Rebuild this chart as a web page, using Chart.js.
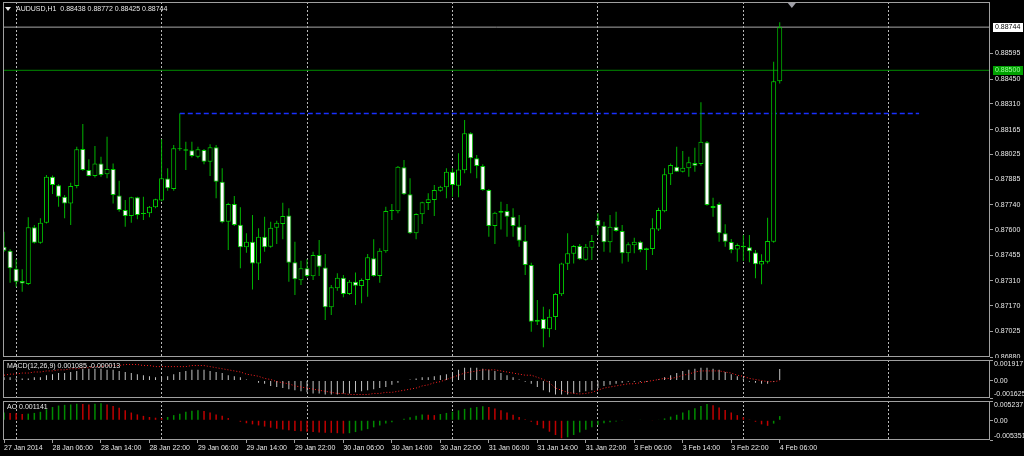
<!DOCTYPE html>
<html>
<head>
<meta charset="utf-8">
<title>AUDUSD,H1</title>
<script src="https://cdn.jsdelivr.net/npm/chart.js@4.4.0/dist/chart.umd.min.js"></script>
<style>
  html, body { margin: 0; padding: 0; background: #000; }
  #wrap { position: relative; width: 1024px; height: 456px; background: #000; overflow: hidden; }
  canvas { position: absolute; left: 0; }
  .lbl { position: absolute; color: #e8e8e8; font: 7px "Liberation Sans", Arial, sans-serif; line-height: 9px; white-space: pre; }
  .tri { position: absolute; width: 0; height: 0; border-left: 3px solid transparent; border-right: 3px solid transparent; border-top: 4px solid #e8e8e8; }
</style>
</head>
<body>
<div id="wrap">
  <canvas id="mainChart" width="1024" height="358" style="top:0"></canvas>
  <canvas id="macdChart" width="1024" height="41" style="top:358px"></canvas>
  <canvas id="aoChart" width="1024" height="57" style="top:399px"></canvas>
  <div class="tri" style="left:5px;top:7px"></div>
  <div class="lbl" id="headLabel" style="left:16px;top:4px"></div>
  <div class="lbl" id="macdLabel" style="left:7px;top:361px"></div>
  <div class="lbl" id="aoLabel" style="left:7px;top:402px"></div>
</div>
<script>
// Données AUDUSD H1
const symbol = "AUDUSD,H1";

const opens = [
  0.87503,0.87481,0.87378,0.87309,0.87292,0.87613,0.87526,0.87639,0.87899,0.87850,
  0.87786,0.87748,0.87846,0.88056,0.87937,0.87903,0.87974,0.87913,0.87943,0.87793,
  0.87711,0.87677,0.87782,0.87688,0.87692,0.87726,0.87765,0.87888,0.87830,0.88058,
  0.88054,0.88048,0.88012,0.88050,0.87984,0.88065,0.87870,0.87644,0.87744,0.87628,
  0.87500,0.87531,0.87409,0.87560,0.87503,0.87610,0.87631,0.87680,0.87415,0.87313,
  0.87381,0.87336,0.87456,0.87386,0.87161,0.87268,0.87328,0.87236,0.87305,0.87281,
  0.87315,0.87438,0.87338,0.87478,0.87705,0.87703,0.87952,0.87799,0.87579,0.87686,
  0.87750,0.87767,0.87820,0.87839,0.87927,0.87848,0.87935,0.88144,0.88003,0.87959,
  0.87824,0.87620,0.87695,0.87705,0.87673,0.87618,0.87537,0.87400,0.87079,0.87095,
  0.87037,0.87106,0.87234,0.87407,0.87464,0.87507,0.87430,0.87497,0.87654,0.87622,
  0.87528,0.87616,0.87592,0.87466,0.87511,0.87531,0.87485,0.87490,0.87600,0.87703,
  0.87912,0.87955,0.87927,0.87946,0.87976,0.87970,0.88094,0.87722,0.87745,0.87579,
  0.87530,0.87488,0.87500,0.87500,0.87470,0.87402,0.87418,0.87531,0.88438
];
const highs = [
  0.87588,0.87489,0.87432,0.87376,0.87669,0.87626,0.87664,0.87909,0.87905,0.87856,
  0.87796,0.87865,0.88068,0.88196,0.87997,0.88072,0.88012,0.88125,0.87974,0.87876,
  0.87767,0.87786,0.87786,0.87786,0.87733,0.87774,0.88110,0.87946,0.88078,0.88256,
  0.88097,0.88097,0.88068,0.88056,0.88082,0.88078,0.87946,0.87752,0.87790,0.87726,
  0.87579,0.87682,0.87607,0.87673,0.87644,0.87650,0.87752,0.87720,0.87531,0.87424,
  0.87432,0.87475,0.87541,0.87462,0.87287,0.87353,0.87343,0.87315,0.87358,0.87324,
  0.87462,0.87545,0.87494,0.87729,0.87744,0.87959,0.87993,0.87890,0.87692,0.87757,
  0.87805,0.87852,0.87848,0.87946,0.87946,0.88031,0.88219,0.88150,0.88022,0.87969,
  0.87830,0.87701,0.87757,0.87744,0.87720,0.87682,0.87626,0.87412,0.87202,0.87164,
  0.87150,0.87243,0.87413,0.87579,0.87513,0.87518,0.87518,0.87569,0.87692,0.87644,
  0.87682,0.87701,0.87626,0.87528,0.87554,0.87537,0.87497,0.87664,0.87724,0.87946,
  0.87974,0.88068,0.88044,0.88012,0.88063,0.88319,0.88100,0.87780,0.87754,0.87630,
  0.87547,0.87522,0.87569,0.87569,0.87485,0.87460,0.87667,0.88548,0.88772
];
const lows = [
  0.87474,0.87300,0.87277,0.87249,0.87287,0.87522,0.87520,0.87635,0.87801,0.87729,
  0.87664,0.87626,0.87834,0.87933,0.87901,0.87895,0.87899,0.87890,0.87748,0.87701,
  0.87616,0.87639,0.87658,0.87654,0.87669,0.87720,0.87760,0.87820,0.87820,0.88046,
  0.87937,0.88008,0.88003,0.87969,0.87903,0.87777,0.87636,0.87485,0.87620,0.87381,
  0.87469,0.87262,0.87315,0.87475,0.87497,0.87518,0.87545,0.87305,0.87230,0.87287,
  0.87331,0.87315,0.87338,0.87089,0.87117,0.87254,0.87217,0.87230,0.87174,0.87184,
  0.87221,0.87334,0.87300,0.87469,0.87654,0.87692,0.87795,0.87575,0.87545,0.87631,
  0.87711,0.87677,0.87814,0.87777,0.87786,0.87782,0.87918,0.87918,0.87890,0.87820,
  0.87560,0.87518,0.87601,0.87560,0.87560,0.87503,0.87343,0.87023,0.87061,0.86935,
  0.86991,0.87033,0.87225,0.87372,0.87409,0.87428,0.87424,0.87428,0.87569,0.87475,
  0.87471,0.87588,0.87409,0.87418,0.87466,0.87472,0.87372,0.87457,0.87592,0.87698,
  0.87852,0.87925,0.87923,0.87899,0.87927,0.87960,0.87735,0.87673,0.87531,0.87503,
  0.87466,0.87418,0.87422,0.87415,0.87325,0.87291,0.87409,0.87525,0.88425
];
const closes = [
  0.87481,0.87381,0.87305,0.87296,0.87613,0.87526,0.87639,0.87899,0.87852,0.87786,
  0.87748,0.87846,0.88054,0.87937,0.87903,0.87974,0.87909,0.87943,0.87796,0.87711,
  0.87677,0.87782,0.87682,0.87692,0.87729,0.87771,0.87890,0.87833,0.88060,0.88054,
  0.88046,0.88016,0.88054,0.87984,0.88065,0.87870,0.87641,0.87744,0.87626,0.87500,
  0.87531,0.87409,0.87560,0.87500,0.87610,0.87639,0.87677,0.87413,0.87319,0.87381,
  0.87338,0.87456,0.87390,0.87161,0.87274,0.87328,0.87236,0.87305,0.87283,0.87315,
  0.87443,0.87338,0.87481,0.87705,0.87707,0.87955,0.87799,0.87579,0.87688,0.87754,
  0.87771,0.87824,0.87842,0.87927,0.87852,0.87940,0.88144,0.88003,0.87959,0.87824,
  0.87620,0.87695,0.87705,0.87673,0.87620,0.87537,0.87400,0.87079,0.87090,0.87037,
  0.87108,0.87236,0.87409,0.87466,0.87507,0.87432,0.87503,0.87535,0.87622,0.87528,
  0.87616,0.87592,0.87466,0.87517,0.87531,0.87485,0.87494,0.87607,0.87711,0.87912,
  0.87965,0.87927,0.87950,0.87980,0.87961,0.88096,0.87739,0.87733,0.87579,0.87531,
  0.87485,0.87513,0.87509,0.87478,0.87404,0.87422,0.87535,0.88438,0.88744
];

// MACD(12,26,9) : histogramme + ligne de signal
const macdMain = [
  0.0003,0.0003,0.0002,0.0002,0.0002,0.0003,0.0003,0.0005,0.0006,0.0007,
  0.0007,0.0008,0.0009,0.0011,0.0011,0.0011,0.0011,0.0010,0.0010,0.0009,
  0.0008,0.0007,0.0006,0.0005,0.0004,0.0003,0.0003,0.0004,0.0006,0.0008,
  0.0009,0.0010,0.0010,0.0010,0.0009,0.0008,0.0007,0.0005,0.0004,0.0003,
  0.0001,0.0000,-0.0002,-0.0003,-0.0005,-0.0006,-0.0007,-0.0008,-0.0009,-0.0010,
  -0.0011,-0.0012,-0.0012,-0.0013,-0.0013,-0.0013,-0.0012,-0.0012,-0.0011,-0.0010,
  -0.0009,-0.0008,-0.0007,-0.0006,-0.0004,-0.0002,0.0000,0.0001,0.0002,0.0003,
  0.0003,0.0004,0.0005,0.0006,0.0008,0.0010,0.0012,0.0012,0.0012,0.0011,
  0.0010,0.0009,0.0007,0.0005,0.0003,0.0001,-0.0001,-0.0003,-0.0006,-0.0009,
  -0.0011,-0.0013,-0.0013,-0.0013,-0.0012,-0.0011,-0.0010,-0.0009,-0.0007,-0.0005,
  -0.0004,-0.0003,-0.0002,-0.0001,-0.0001,-0.0001,-0.0001,0.0000,0.0001,0.0003,
  0.0005,0.0007,0.0009,0.0010,0.0011,0.0012,0.0012,0.0011,0.0010,0.0008,
  0.0006,0.0004,0.0002,-0.0001,-0.0002,-0.0003,-0.0003,-0.0001,0.001085
];
const macdSignal = [
  0.0005,0.0006,0.0006,0.0007,0.0007,0.0008,0.0008,0.0009,0.0009,0.0010,
  0.0010,0.0011,0.0011,0.0012,0.0012,0.0013,0.0013,0.0014,0.0014,0.0014,
  0.0015,0.0015,0.0015,0.0014,0.0014,0.0013,0.0013,0.0013,0.0013,0.0013,
  0.0013,0.0014,0.0014,0.0014,0.0013,0.0012,0.0011,0.0010,0.0009,0.0008,
  0.0006,0.0005,0.0004,0.0002,0.0001,-0.0001,-0.0002,-0.0003,-0.0005,-0.0006,
  -0.0007,-0.0008,-0.0009,-0.0010,-0.0011,-0.0012,-0.0012,-0.0013,-0.0013,-0.0013,
  -0.0013,-0.0012,-0.0012,-0.0011,-0.0011,-0.0010,-0.0009,-0.0008,-0.0007,-0.0005,
  -0.0004,-0.0002,-0.0001,0.0001,0.0003,0.0005,0.0007,0.0008,0.0009,0.0010,
  0.0010,0.0010,0.0009,0.0008,0.0007,0.0006,0.0005,0.0005,0.0003,0.0001,
  -0.0002,-0.0007,-0.0009,-0.0011,-0.0012,-0.00125,-0.0012,-0.0011,-0.0009,-0.0007,
  -0.0006,-0.0005,-0.0004,-0.0003,-0.0003,-0.0002,-0.0001,0.0000,0.0001,0.0002,
  0.0002,0.0003,0.0005,0.0006,0.0008,0.0009,0.0009,0.0009,0.0009,0.0008,
  0.0007,0.0005,0.0004,0.0002,0.0001,0.0000,-0.0001,-0.0001,-0.000013
];

// Awesome Oscillator
const aoValues = [
  0.0021,0.0020,0.0019,0.0017,0.0018,0.0020,0.0023,0.0030,0.0036,0.0040,
  0.0042,0.0043,0.0045,0.0044,0.0043,0.0045,0.0046,0.0043,0.0039,0.0034,
  0.0027,0.0021,0.0016,0.0012,0.0009,0.0007,0.0006,0.0009,0.0014,0.0018,
  0.0023,0.0026,0.0027,0.0025,0.0021,0.0016,0.0012,0.0006,0.0000,-0.0004,
  -0.0008,-0.0011,-0.0014,-0.0017,-0.0020,-0.0023,-0.0025,-0.0027,-0.0029,-0.0030,
  -0.0031,-0.0032,-0.0033,-0.0034,-0.0034,-0.0035,-0.0036,-0.0035,-0.0032,-0.0028,
  -0.0024,-0.0019,-0.0014,-0.0009,-0.0005,0.0000,0.0004,0.0008,0.0012,0.0016,
  0.0015,0.0014,0.0017,0.0020,0.0023,0.0027,0.0031,0.0034,0.0036,0.0038,
  0.0036,0.0032,0.0027,0.0021,0.0015,0.0009,0.0003,-0.0004,-0.0013,-0.0022,
  -0.0031,-0.0040,-0.0049,-0.0046,-0.0040,-0.0033,-0.0026,-0.0019,-0.0013,-0.0008,
  -0.0005,-0.0003,-0.0002,-0.0001,0.0000,0.0001,0.0000,-0.0001,0.0001,0.0005,
  0.0010,0.0015,0.0021,0.0027,0.0033,0.0039,0.0044,0.0041,0.0035,0.0028,
  0.0021,0.0014,0.0008,0.0002,-0.0004,-0.0011,-0.0015,-0.0009,0.001141
];

// Axes et repères
const priceTicks = [0.88595,0.88450,0.88310,0.88165,0.88025,0.87885,0.87740,0.87600,0.87455,0.87310,0.87170,0.87025,0.86880];
const macdTicks = [0.001917, 0, -0.001625];
const aoTicks = [0.005237, 0, -0.005351];
const timeLabels = ["27 Jan 2014","28 Jan 06:00","28 Jan 14:00","28 Jan 22:00","29 Jan 06:00","29 Jan 14:00","29 Jan 22:00","30 Jan 06:00","30 Jan 14:00","30 Jan 22:00","31 Jan 06:00","31 Jan 14:00","31 Jan 22:00","3 Feb 06:00","3 Feb 14:00","3 Feb 22:00","4 Feb 06:00"];
const timeIdx = [0,8,16,24,32,40,48,56,64,72,80,88,96,104,112,120,128];
const dayIdx = [2,26,50,74,98,122,146];

const bidPrice = 0.88744;
const greenLevel = 0.88500;
const blueLevel = 0.88256;
const blueFrom = 29, blueTo = 151;
const shiftIdx = 130;

// Plages visibles
const xMin = -0.17, xMax = 162.7;
const priceMin = 0.86880, priceMax = 0.88886;

const GREEN = "#00d000";
const TXT = "#e8e8e8";
const FRAME = "#a0a0a0";
const FONT = '7px "Liberation Sans", Arial, sans-serif';

Chart.defaults.font.family = '"Liberation Sans", Arial, sans-serif';
Chart.defaults.font.size = 7;
Chart.defaults.color = TXT;
Chart.defaults.animation = false;

const last = closes.length - 1;
document.getElementById("headLabel").textContent =
  symbol + "  " + [opens[last], highs[last], lows[last], closes[last]].map(v => v.toFixed(5)).join(" ");
document.getElementById("macdLabel").textContent =
  "MACD(12,26,9) " + macdMain[last].toFixed(6) + " " + macdSignal[last].toFixed(6);
document.getElementById("aoLabel").textContent = "AO " + aoValues[last].toFixed(6);

// Cadre gris autour de chaque panneau
const panelFrame = {
  id: "panelFrame",
  afterDraw(chart) {
    const { ctx, chartArea: a } = chart;
    ctx.save();
    ctx.strokeStyle = FRAME;
    ctx.lineWidth = 1;
    ctx.strokeRect(a.left + 0.5, a.top + 0.5, a.right - a.left - 1, a.bottom - a.top - 1);
    ctx.restore();
  }
};

// Étiquettes min / 0 / max des sous-fenêtres (comme MT4 : collées aux bords)
const edgeLabels = {
  id: "edgeLabels",
  afterDraw(chart, args, opts) {
    const vals = opts.values;
    if (!vals) return;
    const { ctx, chartArea: a, scales } = chart;
    ctx.save();
    ctx.font = FONT;
    ctx.fillStyle = TXT;
    ctx.textAlign = "left";
    vals.forEach((v, k) => {
      const py = scales.y.getPixelForValue(v);
      let dy = 0.5;
      ctx.textBaseline = "middle";
      if (k === 0) { ctx.textBaseline = "top"; dy = 1; }
      if (k === vals.length - 1) { ctx.textBaseline = "bottom"; dy = 0; }
      ctx.fillText(v === 0 ? "0.00" : v.toFixed(6), a.right + 4, py + dy);
    });
    ctx.restore();
  }
};

// Étiquettes de prix (bid + niveau vert) et marqueur de décalage
const markValues = [bidPrice, greenLevel];
const markBg = ["#ffffff", "#00a000"];
const markFg = ["#000000", "#9cff9c"];
const priceMarks = {
  id: "priceMarks",
  afterDraw(chart) {
    const { ctx, chartArea: a, scales } = chart;
    ctx.save();
    ctx.font = FONT;
    ctx.textBaseline = "middle";
    markValues.forEach((v, k) => {
      const py = Math.round(scales.y.getPixelForValue(v));
      ctx.fillStyle = markBg[k];
      ctx.fillRect(a.right + 3, py - 4, 30, 9);
      ctx.fillStyle = markFg[k];
      ctx.fillText(v.toFixed(5), a.right + 5, py + 0.5);
    });
    const sx = scales.x.getPixelForValue(shiftIdx);
    ctx.fillStyle = "#a0a0a8";
    ctx.beginPath();
    ctx.moveTo(sx - 4, a.top + 1);
    ctx.lineTo(sx + 4, a.top + 1);
    ctx.lineTo(sx, a.top + 6);
    ctx.closePath();
    ctx.fill();
    ctx.restore();
  }
};

function gridX() {
  return {
    type: "linear", min: xMin, max: xMax, offset: false,
    afterBuildTicks: s => { s.ticks = dayIdx.map(v => ({ value: v })); },
    afterFit: s => { s.height = 0; s.paddingLeft = 0; s.paddingRight = 0; },
    ticks: { display: false },
    grid: { color: "#b8b8b8", lineWidth: 1, drawTicks: false, offset: false },
    border: { display: false, dash: [2, 2] }
  };
}

function rightY(min, max, ticks, showLabels) {
  return {
    type: "linear", position: "right", min: min, max: max,
    afterBuildTicks: s => { s.ticks = ticks.map(v => ({ value: v })); },
    afterFit: s => { s.width = 34; s.paddingTop = 0; s.paddingBottom = 0; },
    ticks: { display: showLabels, autoSkip: false, padding: 2, color: TXT, callback: v => v.toFixed(5) },
    grid: { drawOnChartArea: false, drawTicks: true, tickLength: 3, color: FRAME },
    border: { display: false }
  };
}

const idx = closes.map((c, i) => i);

// Panneau principal : chandeliers
new Chart(document.getElementById("mainChart"), {
  type: "bar",
  data: {
    datasets: [
      {
        label: "corps",
        data: idx.map(i => ({ x: i, y: [opens[i], closes[i]] })),
        backgroundColor: idx.map(i => closes[i] >= opens[i] ? "#000000" : "#ffffff"),
        borderColor: GREEN,
        borderWidth: 1,
        borderSkipped: false,
        barThickness: 5,
        minBarLength: 1,
        inflateAmount: 0,
        grouped: false
      },
      {
        label: "mèches",
        data: idx.map(i => ({ x: i, y: [lows[i], highs[i]] })),
        backgroundColor: "#00b400",
        borderWidth: 0,
        barThickness: 1,
        inflateAmount: 0,
        grouped: false
      },
      {
        type: "line", label: "bid",
        data: [{ x: xMin, y: bidPrice }, { x: xMax, y: bidPrice }],
        borderColor: "#a8a8a8", borderWidth: 1, pointRadius: 0
      },
      {
        type: "line", label: "niveau",
        data: [{ x: xMin, y: greenLevel }, { x: xMax, y: greenLevel }],
        borderColor: "#008c00", borderWidth: 1, pointRadius: 0
      },
      {
        type: "line", label: "résistance",
        data: [{ x: blueFrom, y: blueLevel }, { x: blueTo, y: blueLevel }],
        borderColor: "#1830ff", borderWidth: 1.5, borderDash: [5, 3], pointRadius: 0
      }
    ]
  },
  options: {
    responsive: false,
    layout: { padding: { left: 3, top: 2, right: 0, bottom: 1 } },
    plugins: { legend: { display: false }, tooltip: { enabled: false } },
    scales: {
      x: gridX(),
      y: rightY(priceMin, priceMax, priceTicks, true)
    }
  },
  plugins: [panelFrame, priceMarks]
});

// Panneau MACD
new Chart(document.getElementById("macdChart"), {
  type: "bar",
  data: {
    datasets: [
      {
        type: "line", label: "signal",
        data: idx.map(i => ({ x: i, y: macdSignal[i] })),
        borderColor: "#ff2020", borderWidth: 1, borderDash: [1, 2], pointRadius: 0, tension: 0
      },
      {
        label: "macd",
        data: idx.map(i => ({ x: i, y: macdMain[i] })),
        backgroundColor: "#c4c4c4",
        borderWidth: 0,
        barThickness: 1,
        inflateAmount: 0,
        grouped: false
      }
    ]
  },
  options: {
    responsive: false,
    layout: { padding: { left: 3, top: 2, right: 0, bottom: 1 } },
    plugins: { legend: { display: false }, tooltip: { enabled: false }, edgeLabels: { values: macdTicks } },
    scales: {
      x: gridX(),
      y: rightY(macdTicks[2], macdTicks[0], macdTicks, false)
    }
  },
  plugins: [panelFrame, edgeLabels]
});

// Panneau AO (vert si la barre monte, rouge sinon)
new Chart(document.getElementById("aoChart"), {
  type: "bar",
  data: {
    datasets: [
      {
        label: "AO",
        data: idx.map(i => ({ x: i, y: aoValues[i] })),
        backgroundColor: idx.map(i => (i === 0 || aoValues[i] > aoValues[i - 1]) ? "#008c00" : "#c00000"),
        borderWidth: 0,
        barThickness: 1.5,
        inflateAmount: 0,
        grouped: false
      }
    ]
  },
  options: {
    responsive: false,
    layout: { padding: { left: 3, top: 2, right: 0, bottom: 0 } },
    plugins: { legend: { display: false }, tooltip: { enabled: false }, edgeLabels: { values: aoTicks } },
    scales: {
      x: gridX(),
      xt: {
        type: "linear", position: "bottom", min: xMin, max: xMax, offset: false,
        afterBuildTicks: s => { s.ticks = timeIdx.map(v => ({ value: v })); },
        afterFit: s => { s.height = 16; s.paddingLeft = 0; s.paddingRight = 0; },
        ticks: { autoSkip: false, maxRotation: 0, align: "start", padding: 1, color: TXT,
                 callback: (v, k) => timeLabels[k] },
        grid: { drawOnChartArea: false, drawTicks: true, tickLength: 3, color: FRAME, offset: false },
        border: { display: false }
      },
      y: rightY(aoTicks[2], aoTicks[0], aoTicks, false)
    }
  },
  plugins: [panelFrame, edgeLabels]
});
</script>
</body>
</html>
